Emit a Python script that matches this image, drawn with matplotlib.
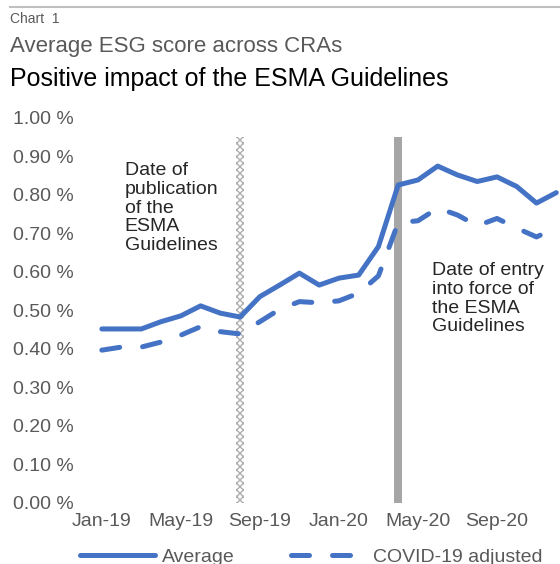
import matplotlib

matplotlib.use("Agg")

import matplotlib.pyplot as plt
import numpy as np

plt.rcParams["font.family"] = ["Liberation Sans", "DejaVu Sans"]

# monthly average ESG score (%), Jan-19 .. Dec-20
months = [
    "Jan-19", "Feb-19", "Mar-19", "Apr-19", "May-19", "Jun-19",
    "Jul-19", "Aug-19", "Sep-19", "Oct-19", "Nov-19", "Dec-19",
    "Jan-20", "Feb-20", "Mar-20", "Apr-20", "May-20", "Jun-20",
    "Jul-20", "Aug-20", "Sep-20", "Oct-20", "Nov-20", "Dec-20",
]
average = [
    0.452, 0.452, 0.452, 0.471, 0.486, 0.512,
    0.493, 0.483, 0.536, 0.566, 0.597, 0.566,
    0.584, 0.592, 0.666, 0.826, 0.839, 0.875,
    0.852, 0.835, 0.847, 0.822, 0.779, 0.806,
]
covid_adjusted = [
    0.397, 0.405, 0.405, 0.418, 0.436, 0.458,
    0.445, 0.439, 0.471, 0.503, 0.523, 0.520,
    0.525, 0.545, 0.590, 0.728, 0.733, 0.766,
    0.748, 0.720, 0.739, 0.714, 0.691, 0.715,
]
publication_month = "Aug-19"
entry_into_force_month = "Apr-20"
marker_height = 0.95
tick_months = ["Jan-19", "May-19", "Sep-19", "Jan-20", "May-20", "Sep-20"]
y_ticks = [0.0, 0.1, 0.2, 0.3, 0.4, 0.5, 0.6, 0.7, 0.8, 0.9, 1.0]

BLUE = "#4472C4"
GREY_TEXT = "#595959"

fig = plt.figure(figsize=(5.6, 5.64), dpi=100)
ax = fig.add_axes([0.164, 0.1082, 0.836, 0.6826])

x = np.arange(len(months))
idx = {m: i for i, m in enumerate(months)}

# guideline markers
ax.bar(idx[publication_month], marker_height, width=0.4, color="white",
       edgecolor="#b0b0b0", hatch="xxxxx", linewidth=0, zorder=1)
ax.bar(idx[entry_into_force_month], marker_height, width=0.4, color="#a6a6a6",
       linewidth=0, zorder=1)

ax.plot(x, average, color=BLUE, lw=3.6, solid_capstyle="round",
        solid_joinstyle="round", label="Average", zorder=3)
dashed, = ax.plot(x, covid_adjusted, color=BLUE, lw=3.6, dash_capstyle="round",
                  label="COVID-19 adjusted", zorder=3)
dashed.set_dashes([3.6, 4.6])

ax.set_xlim(-0.506, 23.19)
ax.set_ylim(0, 1.0)
ax.set_yticks(y_ticks)
ax.set_yticklabels([f"{v:.2f} %" for v in y_ticks])
ax.set_xticks([idx[m] for m in tick_months])
ax.set_xticklabels(tick_months)
ax.tick_params(axis="y", length=0, pad=13, labelsize=14, labelcolor=GREY_TEXT)
ax.tick_params(axis="x", length=0, pad=7, labelsize=14, labelcolor=GREY_TEXT)
for s in ax.spines.values():
    s.set_visible(False)

ax.text(1.16, 0.885, "Date of\npublication\nof the\nESMA\nGuidelines",
        fontsize=14, color="#262626", va="top", ha="left", linespacing=1.13)
ax.text(16.7, 0.625, "Date of entry\ninto force of\nthe ESMA\nGuidelines",
        fontsize=14, color="#262626", va="top", ha="left", linespacing=1.13)

# header
fig.add_artist(plt.Line2D([0.018, 1.0], [0.9876, 0.9876], color="#bfbfbf",
                          lw=1.5, transform=fig.transFigure))
fig.text(0.018, 0.967, "Chart  1", fontsize=10, color=GREY_TEXT, va="center")
fig.text(0.018, 0.918, "Average ESG score across CRAs", fontsize=16,
         color=GREY_TEXT, va="center")
fig.text(0.018, 0.860, "Positive impact of the ESMA Guidelines", fontsize=18,
         color="black", va="center")

fig.legend(loc="center", bbox_to_anchor=(0.556, 0.012), ncol=2, frameon=False,
           fontsize=14, handlelength=3.85, handletextpad=0.35,
           columnspacing=2.9, labelcolor=GREY_TEXT)

fig.savefig("out.png", dpi=100)
plt.close(fig)
